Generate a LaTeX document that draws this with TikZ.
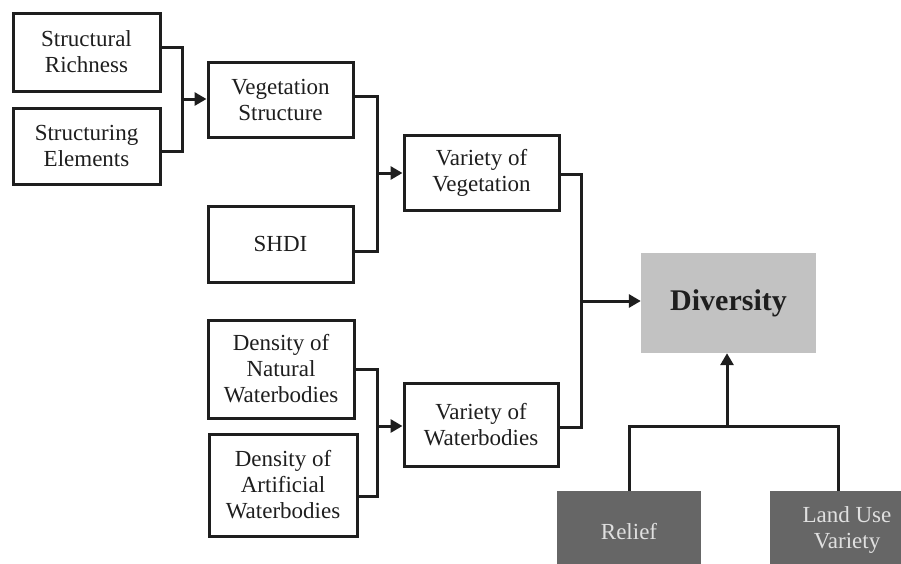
\documentclass[tikz,border=0pt]{standalone}
\usepackage{fontspec}
\setmainfont{Liberation Serif}
\usetikzlibrary{arrows.meta}
\definecolor{divgray}{HTML}{C2C2C2}
\definecolor{darkbox}{HTML}{666666}
\definecolor{ink}{HTML}{1E1E1E}
\begin{document}
\begin{tikzpicture}[x=1pt,y=-1pt,
  box/.style={draw=ink, line width=3pt, rectangle, align=center, inner sep=0pt,
    font=\fontsize{23}{26}\selectfont, text=ink},
  darkbx/.style={fill=darkbox, rectangle, align=center, inner sep=0pt,
    font=\fontsize{23}{26}\selectfont, text=white!88!black},
  conn/.style={draw=ink, line width=3pt},
  arr/.style={conn, -{Triangle[length=12pt,width=13pt]}}]
\useasboundingbox (0,0) rectangle (901,563);
\clip (0,0) rectangle (901,563);
\node[box, minimum width=147pt, minimum height=78pt] (sr) at (86.5,52) {Structural\\Richness};
\node[box, minimum width=147pt, minimum height=76pt] (se) at (86.5,146) {Structuring\\Elements};
\node[box, minimum width=145pt, minimum height=75pt] (vs) at (280.5,99.5) {Vegetation\\Structure};
\node[box, minimum width=145pt, minimum height=76pt] (shdi) at (280.5,244) {SHDI};
\node[box, minimum width=155pt, minimum height=75pt] (vv) at (481.5,172.5) {Variety of\\Vegetation};
\node[box, minimum width=146pt, minimum height=98pt] (dn) at (281,369) {Density of\\Natural\\Waterbodies};
\node[box, minimum width=148pt, minimum height=102pt] (da) at (283,485) {Density of\\Artificial\\Waterbodies};
\node[box, minimum width=154pt, minimum height=83pt] (vw) at (481,424.5) {Variety of\\Waterbodies};
\node[fill=divgray, rectangle, inner sep=0pt, minimum width=175pt, minimum height=100pt,
  font=\fontsize{30}{34}\selectfont\bfseries, text=ink] (div) at (728.5,303) {Diversity};
\node[darkbx, minimum width=144pt, minimum height=82pt] (relief) at (629,532) {Relief};
\node[darkbx, minimum width=154pt, minimum height=78pt] (luv) at (847,530) {Land Use\\Variety};
% junction points
\coordinate (j1) at (182,99);
\coordinate (j2) at (377,173);
\coordinate (j3) at (377,426);
\coordinate (j4) at (581,301);
\coordinate (j5) at (727,426);
% connectors
\draw[conn] ([yshift=5pt]sr.east) -| (j1) |- ([yshift=-5pt]se.east);
\draw[arr] (j1) -- (j1 -| vs.west);
\draw[conn] ([yshift=3.5pt]vs.east) -| (j2) |- ([yshift=-7pt]shdi.east);
\draw[arr] (j2) -- (j2 -| vv.west);
\draw[conn] (dn.east) -| (j3) |- ([yshift=-11pt]da.east);
\draw[arr] (j3) -- (j3 -| vw.west);
\draw[conn] ([yshift=-1.5pt]vv.east) -| (j4) |- ([yshift=-2.5pt]vw.east);
\draw[arr] (j4) -- (j4 -| div.west);
\draw[conn] (relief.north) |- (j5) -| ([xshift=-9pt]luv.north);
\draw[arr] (j5) -- (j5 |- div.south);
\end{tikzpicture}
\end{document}
